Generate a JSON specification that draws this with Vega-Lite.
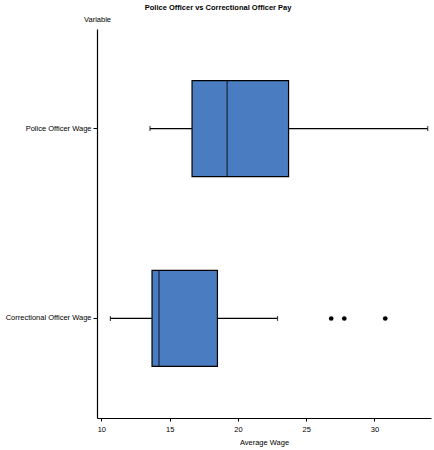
{
  "$schema": "https://vega.github.io/schema/vega-lite/v6.json",
  "width": 334,
  "height": 389,
  "padding": {"left": 5, "top": 3, "right": 3, "bottom": 5},
  "background": "white",
  "title": {
    "text": "Police Officer vs Correctional Officer Pay",
    "font": "Liberation Sans",
    "fontSize": 7.5,
    "fontWeight": "bold",
    "color": "black",
    "anchor": "middle",
    "frame": "bounds",
    "offset": 4
  },
  "config": {
    "view": {"stroke": null},
    "axis": {
      "labelFont": "Liberation Sans",
      "titleFont": "Liberation Sans",
      "labelFontSize": 7.5,
      "titleFontSize": 7.5,
      "titleFontWeight": "normal",
      "labelColor": "black",
      "titleColor": "black",
      "domainColor": "black",
      "tickColor": "black",
      "grid": false
    }
  },
  "datasets": {
    "stats": [
      {"Variable": "Police Officer Wage", "lower": 13.56, "q1": 16.64, "median": 19.21, "q3": 23.71, "upper": 33.9},
      {"Variable": "Correctional Officer Wage", "lower": 10.66, "q1": 13.71, "median": 14.22, "q3": 18.5, "upper": 22.9}
    ],
    "outliers": [
      {"Variable": "Correctional Officer Wage", "wage": 26.83},
      {"Variable": "Correctional Officer Wage", "wage": 27.79},
      {"Variable": "Correctional Officer Wage", "wage": 30.79}
    ]
  },
  "encoding": {
    "y": {
      "field": "Variable",
      "type": "nominal",
      "sort": ["Police Officer Wage", "Correctional Officer Wage"],
      "scale": {"paddingInner": 0, "paddingOuter": 0.024},
      "axis": {
        "title": "Variable",
        "titleAngle": 0,
        "titleAlign": "center",
        "titleBaseline": "bottom",
        "titleX": 0,
        "titleY": -6,
        "tickSize": 4,
        "labelPadding": 2,
        "domainWidth": 1.2
      }
    }
  },
  "layer": [
    {
      "data": {"name": "stats"},
      "mark": {"type": "rule", "color": "black", "strokeWidth": 1.2},
      "encoding": {
        "x": {
          "field": "lower",
          "type": "quantitative",
          "scale": {"domain": [9.68, 34.14], "nice": false, "zero": false},
          "axis": {
            "title": "Average Wage",
            "values": [10, 15, 20, 25, 30],
            "tickSize": 3,
            "labelPadding": 4,
            "titlePadding": 6,
            "domainWidth": 1.2
          }
        },
        "x2": {"field": "upper"}
      }
    },
    {
      "data": {"name": "stats"},
      "mark": {"type": "tick", "orient": "vertical", "color": "black", "size": 5, "thickness": 1.2},
      "encoding": {"x": {"field": "lower", "type": "quantitative"}}
    },
    {
      "data": {"name": "stats"},
      "mark": {"type": "tick", "orient": "vertical", "color": "black", "size": 5, "thickness": 1.2},
      "encoding": {"x": {"field": "upper", "type": "quantitative"}}
    },
    {
      "data": {"name": "stats"},
      "mark": {"type": "bar", "fill": "#4a7cc2", "stroke": "black", "strokeWidth": 1.2, "size": 96, "opacity": 1},
      "encoding": {
        "x": {"field": "q1", "type": "quantitative"},
        "x2": {"field": "q3"}
      }
    },
    {
      "data": {"name": "stats"},
      "mark": {"type": "tick", "orient": "vertical", "color": "black", "size": 96, "thickness": 1.2},
      "encoding": {"x": {"field": "median", "type": "quantitative"}}
    },
    {
      "data": {"name": "outliers"},
      "mark": {"type": "circle", "color": "black", "size": 22, "opacity": 1},
      "encoding": {"x": {"field": "wage", "type": "quantitative"}}
    }
  ]
}
